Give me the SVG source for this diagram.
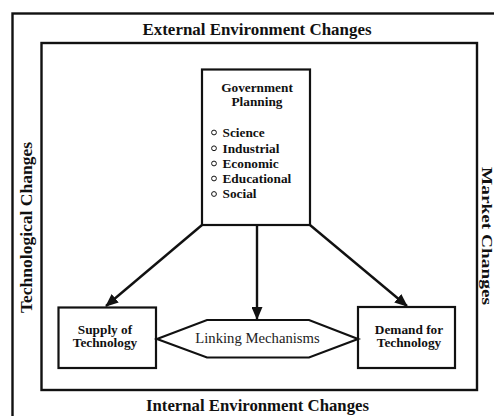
<svg xmlns="http://www.w3.org/2000/svg" width="494" height="416" viewBox="0 0 494 416">
  <style>
    .frame { fill: none; stroke: #111; stroke-width: 2.4; }
    .box { fill: #fff; stroke: #111; stroke-width: 2.2; }
    .edge { fill: none; stroke: #111; stroke-width: 2.4; }
    .title { font-family: "Liberation Serif", "Times New Roman", serif; font-weight: bold; font-size: 16.8px; fill: #111; }
    .side { font-size: 15.5px; }
    .label { font-family: "Liberation Serif", "Times New Roman", serif; font-weight: bold; font-size: 13.3px; fill: #111; }
    .link { font-family: "Liberation Serif", "Times New Roman", serif; font-size: 14.7px; fill: #222; }
    .bullet { fill: #fff; stroke: #111; stroke-width: 1; }
  </style>
  <defs>
    <marker id="arrow" viewBox="0 0 13 11" refX="12" refY="5.5" markerWidth="13" markerHeight="11" markerUnits="userSpaceOnUse" orient="auto">
      <path d="M0,0 L13,5.5 L0,11 Z" fill="#111"/>
    </marker>
  </defs>
  <rect width="494" height="416" fill="#fff"/>

  <!-- outer and inner environment frames -->
  <rect class="frame" x="12.5" y="13.5" width="492" height="414"/>
  <rect class="frame" x="41.5" y="43" width="435.5" height="347"/>

  <text class="title" x="257" y="35" text-anchor="middle" textLength="229" lengthAdjust="spacingAndGlyphs">External Environment Changes</text>
  <text class="title" x="257.5" y="411" text-anchor="middle" textLength="223" lengthAdjust="spacingAndGlyphs">Internal Environment Changes</text>
  <text class="title" transform="translate(31.5,227.5) rotate(-90)" text-anchor="middle" textLength="171" lengthAdjust="spacingAndGlyphs">Technological Changes</text>
  <text class="title side" transform="translate(481.5,236) rotate(90)" text-anchor="middle" textLength="138" lengthAdjust="spacingAndGlyphs">Market Changes</text>

  <!-- connectors -->
  <g id="connectors">
    <line class="edge" x1="202" y1="225" x2="106" y2="306" marker-end="url(#arrow)"/>
    <line class="edge" x1="257" y1="225" x2="257" y2="319" marker-end="url(#arrow)"/>
    <line class="edge" x1="310" y1="225" x2="407" y2="306" marker-end="url(#arrow)"/>
  </g>

  <g id="government-planning">
    <rect class="box" x="202" y="69.5" width="108" height="155.5"/>
    <text class="label" x="257" y="91.5" text-anchor="middle">Government</text>
    <text class="label" x="257" y="105.5" text-anchor="middle">Planning</text>
    <circle class="bullet" cx="214" cy="132.5" r="2.4"/>
    <circle class="bullet" cx="214" cy="148.3" r="2.4"/>
    <circle class="bullet" cx="214" cy="163.5" r="2.4"/>
    <circle class="bullet" cx="214" cy="178.5" r="2.4"/>
    <circle class="bullet" cx="214" cy="194" r="2.4"/>
    <text class="label" x="222.5" y="136.7">Science</text>
    <text class="label" x="222.5" y="152.5">Industrial</text>
    <text class="label" x="222.5" y="167.5">Economic</text>
    <text class="label" x="222.5" y="182.5">Educational</text>
    <text class="label" x="222.5" y="198.3">Social</text>
  </g>

  <g id="supply-of-technology">
    <rect class="box" x="58.5" y="307.5" width="97.5" height="60.5"/>
    <text class="label" x="105" y="333.5" text-anchor="middle">Supply of</text>
    <text class="label" x="105" y="347" text-anchor="middle">Technology</text>
  </g>

  <g id="demand-for-technology">
    <rect class="box" x="358" y="307" width="97" height="61"/>
    <text class="label" x="409" y="333.5" text-anchor="middle">Demand for</text>
    <text class="label" x="409" y="347" text-anchor="middle">Technology</text>
  </g>

  <g id="linking-mechanisms">
    <polygon class="box" points="157,339 207,320 309,320 358,339 309,357.5 207,357.5"/>
    <text class="link" x="257.5" y="342.7" text-anchor="middle">Linking Mechanisms</text>
  </g>
</svg>
